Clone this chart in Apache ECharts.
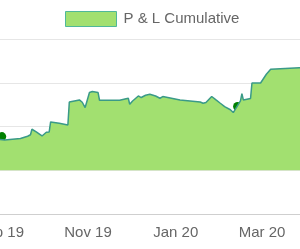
<!DOCTYPE html>
<html><head><meta charset="utf-8">
<script src="https://cdn.jsdelivr.net/npm/echarts@6/dist/echarts.min.js"></script>
<style>html,body{margin:0;padding:0;background:#fff}#c{width:300px;height:249px}</style>
</head><body><div id="c"></div>
<script>
var seriesName = 'P & L Cumulative';
var dates = ['2019-08-28','2019-08-31','2019-09-04','2019-09-15','2019-09-20','2019-09-22','2019-09-23','2019-09-26','2019-09-30',
 '2019-10-03','2019-10-05','2019-10-06','2019-10-12','2019-10-18','2019-10-19','2019-10-26','2019-10-28','2019-10-30',
 '2019-11-02','2019-11-04','2019-11-08','2019-11-09','2019-11-23','2019-11-29','2019-11-30',
 '2019-12-02','2019-12-06','2019-12-08','2019-12-11','2019-12-12','2019-12-14','2019-12-18','2019-12-21','2019-12-23',
 '2020-01-04','2020-01-18','2020-01-20','2020-01-22','2020-01-23','2020-01-26','2020-01-29',
 '2020-02-01','2020-02-04','2020-02-08','2020-02-10','2020-02-15','2020-02-16','2020-02-17','2020-02-22','2020-02-23','2020-02-29',
 '2020-03-04','2020-03-07','2020-03-27','2020-03-31'];
var values = [700,705,693,725,777,811,937,875,784,
 869,875,1104,1074,1035,1561,1607,1554,1433,
 1776,1799,1776,1600,1600,1646,1509,
 1584,1698,1662,1714,1685,1737,1698,1646,1685,
 1607,1561,1531,1547,1554,1685,1607,
 1531,1456,1383,1319,1584,1753,1607,1639,1995,1995,
 2194,2309,2343,2350];
var markerDates = ['2019-09-02','2020-02-13'];
var markerValues = [770,1456];
var tickDates = ['2019-09-01','2019-11-01','2020-01-01','2020-03-01'];
var monthNames = ['Jan','Feb','Mar','Apr','May','Jun','Jul','Aug','Sep','Oct','Nov','Dec'];

function ts(d){ return Date.UTC(+d.slice(0,4), +d.slice(5,7)-1, +d.slice(8,10)); }
var DAY = 86400000;

var chart = echarts.init(document.getElementById('c'));
chart.setOption({
  animation: false,
  legend: {
    data: [{name: seriesName, icon: 'rect', itemStyle: {color: '#a2e070', borderColor: '#4fb89a', borderWidth: 1}}],
    left: 65, top: 11, padding: 0, itemWidth: 51, itemHeight: 15, itemGap: 10,
    textStyle: {color: '#666', fontSize: 15, fontFamily: 'Liberation Sans, Arial, sans-serif', padding: [0, 0, 0, 2]}
  },
  grid: {left: 0, right: 0, top: 39, bottom: 35, containLabel: false, outerBoundsMode: 'none'},
  xAxis: {
    type: 'value',
    min: ts('2019-09-01') - 0.2*DAY, max: ts('2020-03-01') + 26.4*DAY,
    axisLine: {onZero: false, lineStyle: {color: '#cfcfcf'}},
    axisTick: {show: false},
    splitLine: {show: false},
    axisLabel: {
      customValues: tickDates.map(ts),
      color: '#666', fontSize: 15, margin: 11, fontFamily: 'Liberation Sans, Arial, sans-serif',
      hideOverlap: false, showMinLabel: true, showMaxLabel: true,
      formatter: function(v){ var d = new Date(v); return monthNames[d.getUTCMonth()] + ' ' + String(d.getUTCFullYear()).slice(2); }
    }
  },
  yAxis: {
    type: 'value', min: -1000, max: 3000, interval: 1000,
    axisLabel: {show: false}, axisLine: {show: false}, axisTick: {show: false},
    splitLine: {lineStyle: {color: '#e6e6e6'}}
  },
  series: [{
    name: seriesName, type: 'line', showSymbol: false, symbol: 'none',
    data: dates.map(function(d,i){return [ts(d), values[i]];}),
    lineStyle: {color: '#3a9a88', width: 1.5},
    areaStyle: {color: '#a2e070', opacity: 1}
  },{
    name: 'markers', type: 'scatter', symbolSize: 9,
    data: markerDates.map(function(d,i){return [ts(d), markerValues[i]];}),
    itemStyle: {color: '#008000', opacity: 1}
  }]
});
</script></body></html>
